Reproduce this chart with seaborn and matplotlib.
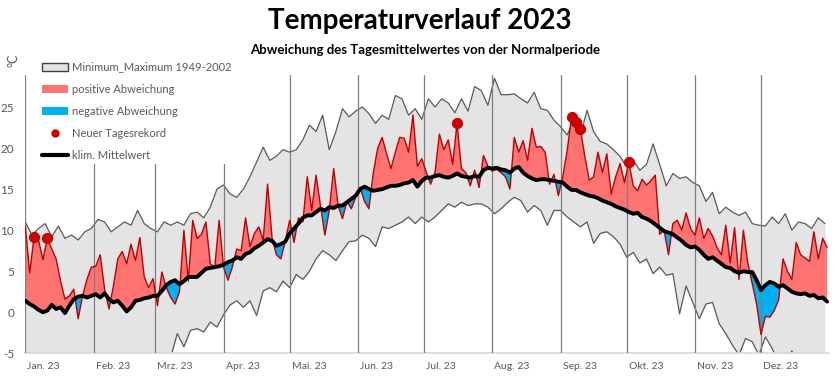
import numpy as np
import pandas as pd
import matplotlib
matplotlib.use("Agg")
import matplotlib.pyplot as plt
from matplotlib.patches import Patch
from matplotlib.lines import Line2D
import seaborn as sns

# ---------------- data ----------------
month_starts = [0, 31, 59, 90, 120, 151, 181, 212, 243, 273, 304, 334]
month_labels = ["Jan. 23", "Feb. 23", "Mrz. 23", "Apr. 23", "Mai. 23", "Jun. 23",
                "Jul. 23", "Aug. 23", "Sep. 23", "Okt. 23", "Nov. 23", "Dez. 23"]

# daily mean 2023, every second day (day 0 .. 364)
actual_2023 = [
    10.5, 4.8, 9.2, 8.8, 6.4, 9.0, 7.7, 6.5, 3.8, 1.6,
    2.0, 2.8, -0.8, 2.0, 4.0, 5.5, 5.6, 7.0, 2.8, 0.4,
    3.2, 6.5, 7.4, 5.9, 8.3, 6.3, 9.1, 4.3, 3.0, 4.1,
    0.8, 4.9, 3.0, 1.8, 1.0, 2.5, 10.0, 3.8, 11.2, 9.0,
    9.5, 11.0, 5.9, 5.5, 11.2, 5.5, 3.9, 5.5, 7.7, 7.5,
    11.5, 8.0, 9.6, 10.4, 8.8, 15.6, 9.1, 7.0, 6.5, 8.6,
    11.2, 8.5, 11.5, 11.0, 16.5, 12.4, 16.7, 13.0, 9.4, 12.4,
    17.5, 13.0, 11.4, 13.5, 12.6, 14.0, 15.2, 13.5, 12.6, 17.0,
    20.0, 21.3, 19.3, 17.5, 19.5, 21.3, 21.2, 19.5, 24.0, 17.8,
    18.7, 17.1, 15.6, 17.0, 21.7, 19.8, 21.0, 18.0, 23.0, 17.5,
    17.0, 15.4, 17.3, 15.2, 19.1, 17.8, 17.2, 17.4, 17.0, 16.5,
    15.0, 21.3, 19.5, 20.9, 18.5, 22.4, 20.1, 20.2, 19.5, 15.6,
    16.8, 14.2, 16.5, 19.7, 23.8, 23.2, 22.3, 19.0, 16.1, 16.5,
    19.5, 17.0, 19.3, 14.4, 16.5, 18.1, 15.8, 18.3, 15.4, 14.8,
    16.2, 15.5, 16.0, 16.7, 9.5, 10.0, 7.0, 10.8, 11.2, 10.0,
    12.1, 10.2, 9.4, 11.5, 9.0, 10.2, 9.3, 7.9, 7.0, 10.6,
    6.0, 10.3, 4.0, 10.0, 6.0, 3.5, 1.0, -2.7, -0.5, -0.6,
    0.2, 1.5, 6.5, 5.0, 4.0, 8.5, 7.0, 6.6, 6.2, 9.8,
    6.5, 9.0, 7.9,
]

# climatological mean, every second day
clim_mean = [
    1.4, 1.0, 0.7, 0.3, 0.0, 0.2, 0.9, 0.4, 0.6, -0.1,
    0.8, 1.6, 1.9, 2.0, 1.8, 2.0, 2.2, 1.8, 2.3, 1.6,
    1.2, 1.4, 0.8, 0.1, 0.6, 1.4, 1.5, 1.7, 1.8, 2.0,
    2.0, 2.6, 3.3, 3.7, 3.9, 3.4, 3.8, 4.3, 4.3, 4.3,
    4.8, 5.3, 5.4, 5.5, 5.6, 5.8, 6.1, 6.3, 6.7, 6.5,
    7.1, 7.3, 7.8, 8.1, 8.5, 8.9, 8.7, 8.1, 8.3, 8.6,
    9.6, 10.2, 10.8, 11.5, 11.8, 11.8, 12.2, 12.6, 12.4, 12.8,
    12.7, 13.0, 13.0, 13.4, 13.8, 14.2, 15.0, 15.3, 15.0, 14.8,
    14.9, 15.0, 15.2, 15.4, 15.4, 15.5, 15.7, 15.8, 16.1, 15.3,
    16.0, 16.4, 16.4, 16.6, 16.7, 16.5, 16.4, 16.6, 16.9, 16.6,
    16.5, 16.4, 16.6, 16.5, 17.3, 17.6, 17.5, 17.6, 17.4, 17.3,
    17.0, 17.5, 17.7, 17.0, 16.6, 16.3, 16.1, 16.2, 16.2, 16.1,
    16.0, 15.9, 15.8, 15.3, 14.9, 14.9, 14.6, 14.4, 14.2, 14.1,
    13.9, 13.6, 13.4, 13.2, 12.9, 12.7, 12.5, 12.2, 12.0, 12.1,
    11.6, 11.4, 11.1, 10.7, 10.3, 9.9, 9.7, 9.5, 9.1, 8.7,
    8.2, 7.9, 8.0, 7.6, 7.0, 6.5, 6.7, 6.3, 5.9, 5.5,
    5.4, 5.0, 4.8, 5.0, 4.9, 4.9, 3.9, 2.7, 3.3, 3.7,
    3.5, 3.1, 3.3, 2.9, 2.5, 2.3, 2.2, 2.3, 2.0, 2.1,
    1.7, 1.8, 1.3,
]

# maximum / minimum 1949-2002, every third day (day 0 .. 363)
max_1949_2002 = [
    11.0, 9.4, 10.2, 10.8, 9.2, 10.5, 9.0, 9.4, 8.8, 9.8,
    10.2, 11.3, 11.0, 9.8, 10.4, 11.0, 10.6, 12.4, 10.8, 10.2,
    9.8, 11.0, 10.6, 11.0, 10.6, 12.0, 12.2, 11.5, 12.8, 15.0,
    15.5, 14.4, 14.0, 15.0, 16.5, 18.3, 20.1, 18.5, 19.0, 19.8,
    19.5, 19.8, 21.0, 22.8, 22.0, 24.0, 19.8, 22.0, 24.8, 23.8,
    24.5, 25.0, 24.2, 23.0, 24.0, 23.5, 26.4, 26.0, 24.0, 24.8,
    23.5, 26.0, 25.0, 26.0, 25.5, 24.3, 26.0, 24.5, 27.5, 27.0,
    25.2, 28.5, 26.5, 26.5, 26.6, 26.0, 25.5, 26.8, 24.8, 24.6,
    23.4, 22.6, 21.6, 23.4, 21.5, 24.6, 22.0, 20.8, 20.5, 19.8,
    19.0, 17.7, 18.5, 17.3, 18.0, 20.5, 18.0, 15.4, 16.9, 16.3,
    16.5, 15.8, 15.4, 13.5, 14.6, 12.0, 12.8, 12.2, 11.8, 12.2,
    10.8, 10.6, 10.5, 11.6, 10.8, 12.0, 10.0, 11.0, 10.8, 10.2,
    11.5, 10.8,
]
min_1949_2002 = [
    -8.0, -8.5, -9.0, -8.2, -9.5, -8.8, -9.2, -8.6, -8.0, -8.4,
    -7.8, -8.2, -7.5, -8.0, -7.6, -7.2, -7.8, -7.0, -6.8, -7.2,
    -6.6, -6.2, -5.5, -2.6, -4.2, -2.2, -2.0, -2.4, -1.2, -1.8,
    -0.3, 0.9, 1.4, 0.6, 1.4, -0.4, 2.6, 3.0, 2.5, 3.8,
    3.0, 4.6, 4.0, 5.0, 6.5, 7.5, 7.0, 6.3, 7.5, 8.6,
    8.7, 9.4, 9.0, 8.0, 10.4, 10.2, 10.6, 11.0, 11.6, 10.8,
    11.6, 11.0, 11.6, 12.4, 13.2, 12.8, 13.4, 13.0, 13.2, 13.2,
    12.8, 12.0, 12.6, 13.4, 14.0, 13.6, 12.2, 13.0, 12.4, 10.6,
    12.4, 12.4, 11.6, 11.0, 10.4, 11.0, 8.4, 9.6, 9.8, 9.2,
    8.3, 6.7, 7.3, 6.0, 6.5, 4.7, 5.5, 4.5, 4.7, -0.2,
    3.2, 1.2, -0.8, 1.0, 1.2, -1.4, -2.6, -4.0, -5.2, -3.2,
    -3.6, -5.2, -3.0, -4.4, -6.0, -6.5, -4.7, -6.5, -7.0, -6.8,
    -7.5, -7.2,
]

record_days = [4, 10, 196, 248, 250, 252, 274]
record_values = [9.2, 9.0, 23.0, 23.8, 23.2, 22.3, 18.3]

y_ticks = [-5, 0, 5, 10, 15, 20, 25]

# ---------------- assemble ----------------
days2 = np.arange(0, 365, 2)
days3 = np.arange(0, 364, 3)

df2 = pd.DataFrame({"day": days2, "actual": actual_2023, "clim": clim_mean})
df3 = pd.DataFrame({"day": days3, "tmax": max_1949_2002, "tmin": min_1949_2002})
rec = pd.DataFrame({"day": record_days, "value": record_values})

sns.set_theme(style="white")
plt.rcParams["font.family"] = ["Lato", "DejaVu Sans"]

RED_FILL = "#ff7373"
BLUE_FILL = "#00b0f0"
LINE_RED = "#c00000"
BAND = "#e4e4e4"
BAND_LINE = "#595959"
TXT = "#595959"

fig = plt.figure(figsize=(8.37, 3.90), dpi=100)
ax = fig.add_axes([25.3 / 837, 36.7 / 390, 804.0 / 837, 278.3 / 390])

# min/max band
ax.fill_between(df3["day"], df3["tmin"], df3["tmax"], color=BAND, lw=0, zorder=1)
sns.lineplot(data=df3, x="day", y="tmax", ax=ax, color=BAND_LINE, lw=0.9,
             estimator=None, zorder=2)
sns.lineplot(data=df3, x="day", y="tmin", ax=ax, color=BAND_LINE, lw=0.9,
             estimator=None, zorder=2)

# deviations
a = df2["actual"].to_numpy()
c = df2["clim"].to_numpy()
ax.fill_between(df2["day"], a, c, where=a >= c, interpolate=True,
                color=RED_FILL, lw=0, zorder=3)
ax.fill_between(df2["day"], a, c, where=a <= c, interpolate=True,
                color=BLUE_FILL, lw=0, zorder=3)

# month grid lines
for m in month_starts:
    ax.axvline(m, color="#7f7f7f", lw=0.9, zorder=3.5)

sns.lineplot(data=df2, x="day", y="actual", ax=ax, color=LINE_RED, lw=1.0,
             estimator=None, zorder=4)
sns.lineplot(data=df2, x="day", y="clim", ax=ax, color="black", lw=2.8,
             estimator=None, zorder=5)
sns.scatterplot(data=rec, x="day", y="value", ax=ax, color="#d40000",
                edgecolor="#b00000", linewidth=0.6, s=55, zorder=6)

ax.set_xlim(0, 365)
ax.set_ylim(-5, 28.9)
ax.set_xlabel("")
ax.set_ylabel("")
ax.set_yticks(y_ticks)
ax.set_yticklabels([str(v) for v in y_ticks])
ax.set_xticks([m + 0.9 for m in month_starts])
ax.set_xticklabels(month_labels)
for lbl in ax.get_xticklabels():
    lbl.set_horizontalalignment("left")
ax.tick_params(axis="x", length=0, pad=6, labelsize=7.5, colors=TXT)
ax.tick_params(axis="y", length=0, pad=8, labelsize=8.5, colors=TXT)
for s in ["left", "right", "top"]:
    ax.spines[s].set_visible(False)
ax.spines["bottom"].set_color("#d9d9d9")
ax.spines["bottom"].set_linewidth(1.2)
ax.grid(False)
if ax.get_legend() is not None:
    ax.get_legend().remove()

# titles
fig.text(0.502, 0.946, "Temperaturverlauf 2023", ha="center", va="center",
         fontsize=20, fontweight="bold", color="black")
fig.text(0.508, 0.872, "Abweichung des Tagesmittelwertes von der Normalperiode",
         ha="center", va="center", fontsize=9.5, fontweight="bold", color="black")
fig.text(0.016, 0.845, "°C", rotation=90, ha="center", va="center",
         fontsize=9, color=TXT)

# legend
handles = [
    Patch(facecolor=BAND, edgecolor="#404040", lw=1.0),
    Patch(facecolor=RED_FILL, edgecolor="none"),
    Patch(facecolor=BLUE_FILL, edgecolor="none"),
    Line2D([], [], marker="o", ls="none", color="#d40000", markersize=5),
    Line2D([], [], color="black", lw=3),
]
labels = ["Minimum_Maximum 1949-2002", "positive Abweichung", "negative Abweichung",
          "Neuer Tagesrekord", "klim. Mittelwert"]
leg = fig.legend(handles, labels, loc="upper left", bbox_to_anchor=(0.039, 0.865),
                 frameon=True, facecolor="white", edgecolor="none", framealpha=1,
                 fontsize=8, labelspacing=1.0, handlelength=2.4, handleheight=0.75,
                 handletextpad=0.3, borderpad=0.3, fancybox=False)
for t in leg.get_texts():
    t.set_color(TXT)

fig.savefig("out.png", dpi=100)
